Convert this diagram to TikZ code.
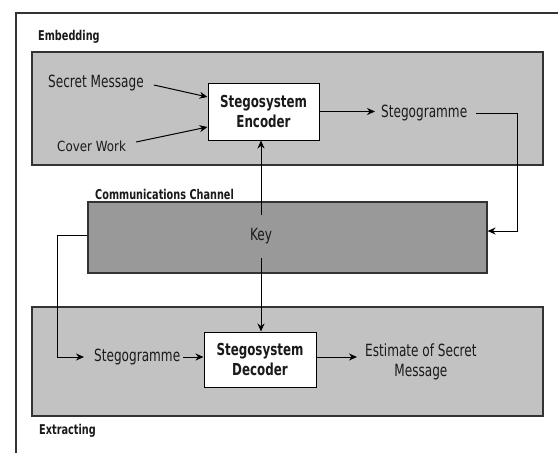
\documentclass[tikz,border=0pt]{standalone}
\usepackage{fontspec}
\setmainfont{DejaVu Sans}[FakeStretch=0.72]
\newfontfamily\cwfont{DejaVu Sans}[FakeStretch=0.85]
\usetikzlibrary{arrows.meta,calc}
\definecolor{boxgray}{HTML}{C2C2C2}
\definecolor{keygray}{HTML}{999999}
\definecolor{edgegray}{HTML}{333333}
\definecolor{inkgray}{HTML}{1A1A1A}
\begin{document}
\begin{tikzpicture}[x=1pt,y=-1pt,
  txt/.style={font=\fontsize{16.8}{20}\selectfont, inner sep=0pt, text=inkgray},
  lbl/.style={font=\fontsize{13.5}{16}\selectfont\bfseries, inner sep=0pt, anchor=west, text=inkgray},
  sysbox/.style={draw=black, line width=1pt, fill=white, font=\fontsize{16.5}{20}\selectfont\bfseries, align=center, inner sep=0pt, text=inkgray},
  region/.style={draw=edgegray, line width=1.2pt, fill=boxgray},
  conn/.style={line width=1pt, -{Stealth[length=8pt,width=7pt]}}]
\useasboundingbox (0,0) rectangle (558,453);
\fill[white] (0,0) rectangle (558,453);
\draw[edgegray, line width=1.3pt] (16,453) -- (16,13) -- (558,13);
% regions
\draw[region] (32,52) rectangle (543,165);
\draw[region] (32,307) rectangle (543,416);
\node[draw=edgegray, line width=1.2pt, fill=keygray, minimum width=399pt, minimum height=71pt, inner sep=0pt] (chan) at (287.5,237.5) {};
% labels
\node[lbl] (emb) at (38,37) {Embedding};
\node[lbl] (cc) at (95,194) {Communications Channel};
\node[lbl] (ext) at (39,431) {Extracting};
% system boxes
\node[sysbox, minimum width=111pt, minimum height=57pt] (enc) at (263.5,111.5) {Stegosystem\\Encoder};
\node[sysbox, minimum width=112pt, minimum height=55pt] (dec) at (260,359.5) {Stegosystem\\Decoder};
% texts
\node[txt, anchor=west] (sm) at (48,83) {Secret Message};
\node[font=\cwfont\fontsize{14}{16}\selectfont, inner sep=0pt, anchor=west, text=inkgray] (cw) at (57,146) {Cover Work};
\node[txt, anchor=west] (sg1) at (381,113) {Stegogramme};
\node[txt, minimum height=43pt] (key) at (261,236.5) {Key};
\node[txt, anchor=west] (sg2) at (94,357) {Stegogramme};
\node[txt, align=center, anchor=west] (est) at (365,362) {Estimate of Secret\\Message};
% connectors
\draw[conn] ($(sm.east)+(10,2)$) -- ($(enc.west)+(0,-14.5)$);
\draw[conn] ($(cw.east)+(10,-4)$) -- ($(enc.west)+(0,15.5)$);
\draw[conn] (enc.east) -- ($(sg1.west)+(-6,-1.5)$);
\coordinate (turn) at (517,113);
\draw[conn] ($(sg1.east)+(9,0)$) -- (turn) |- ($(chan.east)+(0,-6.5)$);
\draw[conn] (key.north) -- (key.north |- enc.south);
\draw[conn] (key.south) -- (key.south |- dec.north);
\draw[conn] ($(chan.west)+(0,-2.5)$) -- ++(-30,0) |- ($(sg2.west)+(-10,0)$);
\draw[conn] ($(sg2.east)+(3,0)$) -- (dec.west |- sg2.east);
\draw[conn] (dec.east |- sg2.east) -- ($(est.west |- sg2.east)+(-8,0)$);
\end{tikzpicture}
\end{document}
